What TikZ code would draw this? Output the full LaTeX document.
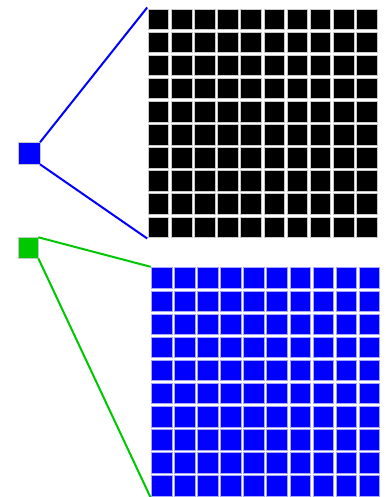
\documentclass[tikz,border=0pt]{standalone}
\definecolor{mygreen}{RGB}{0,200,0}
\definecolor{outl}{RGB}{200,200,200}
\begin{document}
\begin{tikzpicture}[x=1pt,y=-1pt,
  blackcell/.style={fill=black,draw=outl,line width=0.8pt},
  bluecell/.style={fill=blue,draw=blue!35,line width=0.8pt},
  smallsq/.style={inner sep=0pt,outer sep=0pt,anchor=north west,draw=outl,line width=0.6pt},
  blueline/.style={draw=blue,line width=2pt},
  greenline/.style={draw=mygreen,line width=2pt}]
\useasboundingbox (0,0) rectangle (385,497);
% black grid
\foreach \i in {0,...,9}
  \foreach \j in {0,...,9}
    \path[blackcell] (148.2+\i*23.15,9+\j*23.1) rectangle ++(20.6,20.6);
% blue grid
\foreach \i in {0,...,9}
  \foreach \j in {0,...,9}
    \path[bluecell] (151.6+\i*23.05,267.8+\j*23.1) rectangle ++(20.5,20.5);
% small squares
\node[smallsq,fill=blue,minimum width=21.7pt,minimum height=22pt] (bsq) at (18.3,142.3) {};
\node[smallsq,fill=mygreen,minimum width=20pt,minimum height=21pt] (gsq) at (18.3,237.3) {};
% grid corners
\coordinate (bgTL) at (147.2,7.5);
\coordinate (bgBL) at (147.2,238.5);
\coordinate (blTL) at (150.7,266.8);
\coordinate (blBL) at (150.6,497.5);
\draw[blueline] (bsq.north east) -- (bgTL);
\draw[blueline] (bsq.south east) -- (bgBL);
\draw[greenline] (gsq.north east) -- (blTL);
\draw[greenline] (gsq.south east) -- (blBL);
\end{tikzpicture}
\end{document}
